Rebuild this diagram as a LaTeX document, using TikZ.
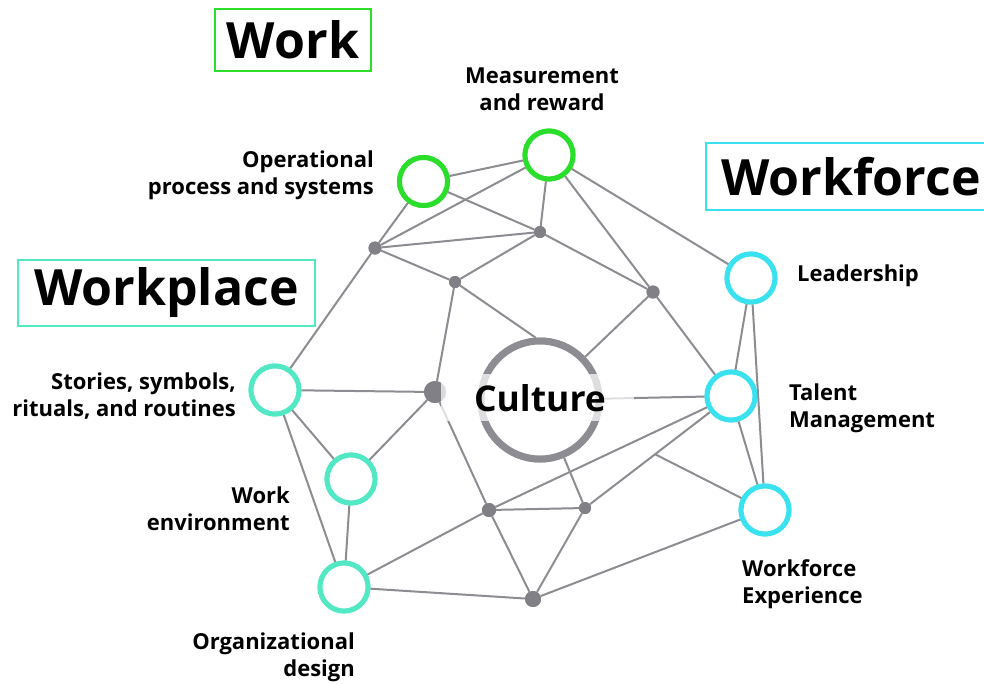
\documentclass[tikz,border=0pt]{standalone}
\usepackage{fontspec}
\setmainfont{Open Sans}
\usetikzlibrary{calc}
\definecolor{workgreen}{RGB}{44,222,44}
\definecolor{placeteal}{RGB}{82,232,196}
\definecolor{forcecyan}{RGB}{58,226,240}
\definecolor{linkgray}{RGB}{140,140,146}
\definecolor{dotgray}{RGB}{128,128,134}

\begin{document}
\begin{tikzpicture}[x=1pt,y=-1pt,
  link/.style={draw=linkgray, line width=2pt},
  hub/.style={circle, fill=dotgray, inner sep=0pt, minimum size=#1},
  topic/.style={circle, draw=#1, line width=5pt, fill=white, minimum size=48pt, inner sep=0pt},
  centre/.style={circle, draw=linkgray, line width=7pt, fill=white, minimum size=118pt, inner sep=0pt},
  caption/.style={font=\bfseries\fontsize{22}{27}\selectfont, inner sep=0pt, text=black},
  group/.style={draw=#1, line width=2.5pt, font=\bfseries\fontsize{50}{50}\selectfont, inner sep=0pt, minimum height=64pt},
]
\useasboundingbox (0,0) rectangle (984,683);

% group headings
\node[group=workgreen, minimum width=156pt, minimum height=62pt] (work) at (293,40) {Work};
\node[group=placeteal, minimum width=297pt, minimum height=66pt] (workplace) at (166.5,293) {Workplace};
\node[group=forcecyan, minimum width=290pt, minimum height=67pt] (workforce) at (851,176.5) {Workforce};

% topic circles
\node[topic=workgreen] (oper) at (423.5,181.5) {};
\node[topic=workgreen] (meas) at (549,155) {};
\node[topic=forcecyan] (lead) at (751,278) {};
\node[topic=forcecyan] (talent) at (731,396) {};
\node[topic=forcecyan] (wfexp) at (765,510) {};
\node[topic=placeteal] (stories) at (275,390) {};
\node[topic=placeteal] (wenv) at (351,479) {};
\node[topic=placeteal] (orgd) at (344,587) {};

% hubs
\node[hub=13pt] (A) at (375,248) {};
\node[hub=12pt] (B) at (540,232) {};
\node[hub=12pt] (C) at (455,282) {};
\node[hub=13pt] (D) at (653,292) {};
\node[hub=22pt] (E) at (435,392) {};
\node[hub=14pt] (F) at (489,510) {};
\node[hub=12pt] (G) at (585,508) {};
\node[hub=16pt] (H) at (533,599) {};

% centre
\node[centre] (culture) at (540,400) {};
\coordinate (J) at ($(G)!0.48!(talent)$);

% connectors
\foreach \a/\b in {oper/meas, oper/A, oper/B, meas/A, meas/B, meas/D, meas/lead,
                   A/B, A/C, A/stories, B/C, B/D, C/E, D/culture, D/talent,
                   culture/talent, lead/talent, lead/wfexp, talent/wfexp,
                   stories/E, stories/wenv, stories/orgd, wenv/E, wenv/orgd,
                   E/F, orgd/F, F/talent, orgd/H, F/G, F/H, G/H, G/talent,
                   G/culture, H/wfexp, J/wfexp}
  \draw[link] (\a) -- (\b);
\draw[link] (C) -- (culture.94);

% nodes drawn again above the connectors
\node[topic=workgreen] at (oper) {};
\node[topic=workgreen] at (meas) {};
\node[topic=forcecyan] at (lead) {};
\node[topic=forcecyan] at (talent) {};
\node[topic=forcecyan] at (wfexp) {};
\node[topic=placeteal] at (stories) {};
\node[topic=placeteal] at (wenv) {};
\node[topic=placeteal] at (orgd) {};
\node[hub=13pt] at (A) {};
\node[hub=12pt] at (B) {};
\node[hub=12pt] at (C) {};
\node[hub=13pt] at (D) {};
\node[hub=22pt] at (E) {};
\node[hub=14pt] at (F) {};
\node[hub=12pt] at (G) {};
\node[hub=16pt] at (H) {};
\node[centre] at (culture) {};

% light veil behind the centre word
\fill[white, opacity=0.72] (441,374) rectangle (634,421);
\node[font=\bfseries\fontsize{35.5}{36}\selectfont, inner sep=0pt, anchor=base] (culturetext) at (540,411) {Culture};

% captions
\node[caption, anchor=north, align=center] (measlabel) at (542,68) {Measurement\\and reward};
\node[caption, anchor=north east, align=right] (operlabel) at (374,151) {Operational\\process and systems};
\node[caption, anchor=north west, align=left] (leadlabel) at (797,265) {Leadership};
\node[caption, anchor=north west, align=left] (talentlabel) at (789,384) {Talent\\Management};
\node[caption, anchor=north west, align=left] (wfexplabel) at (742,559) {Workforce\\Experience};
\node[caption, anchor=north east, align=right] (storieslabel) at (236,373) {Stories, symbols,\\rituals, and routines};
\node[caption, anchor=north east, align=right] (wenvlabel) at (290,487) {Work\\environment};
\node[caption, anchor=north east, align=right] (orgdlabel) at (355,633) {Organizational\\design};
\end{tikzpicture}
\end{document}
